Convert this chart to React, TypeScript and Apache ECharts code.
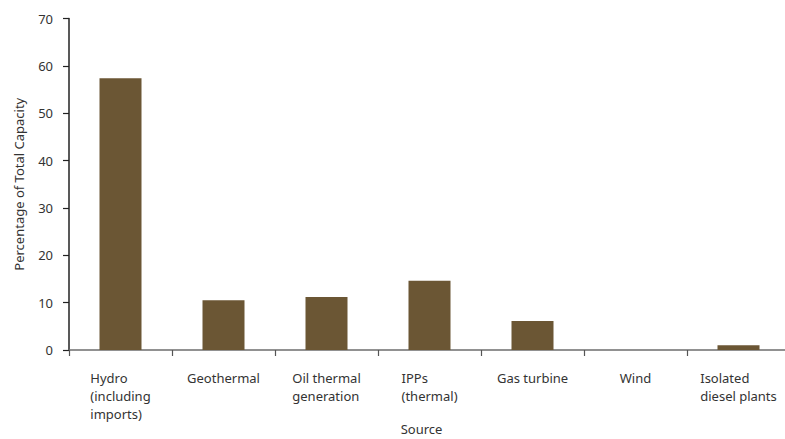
import React, { useEffect, useRef } from "react";
import * as echarts from "echarts";

const categories = [
  "Hydro\n(including\nimports)",
  "Geothermal",
  "Oil thermal\ngeneration",
  "IPPs\n(thermal)",
  "Gas turbine",
  "Wind",
  "Isolated\ndiesel plants",
];
const values = [57.4, 10.5, 11.2, 14.6, 6.1, 0, 1.0];
const yTicks = { min: 0, max: 70, interval: 10 };
const yName = "Percentage of Total Capacity";
const xName = "Source";

const FONT = "Noto Sans";

export default function App() {
  const ref = useRef<HTMLDivElement>(null);
  useEffect(() => {
    if (!ref.current) return;
    const chart = echarts.init(ref.current, null, { renderer: "svg" });
    chart.setOption({
      animation: false,
      backgroundColor: "#ffffff",
      grid: {
        left: 69,
        top: 18.5,
        bottom: 89,
        right: -5,
        containLabel: false,
        outerBoundsMode: "none",
      },
      xAxis: {
        type: "category",
        data: categories,
        boundaryGap: true,
        name: xName,
        nameLocation: "middle",
        nameGap: 72,
        nameMoveOverlap: false,
        nameTextStyle: { fontFamily: FONT, fontSize: 13, color: "#333", padding: [0, 16, 0, 0] },
        axisLine: { lineStyle: { color: "#6d6d6d", width: 1.5 } },
        axisTick: { show: true, alignWithLabel: false, length: 6, lineStyle: { color: "#555", width: 1.2 } },
        axisLabel: {
          interval: 0,
          margin: 19,
          fontFamily: FONT,
          fontSize: 13,
          color: "#333",
          lineHeight: 18,
          hideOverlap: false,
          formatter: (v: string) => v.split("\n").map((s) => `{l|${s}}`).join("\n"),
          rich: { l: { align: "left", fontFamily: FONT, fontSize: 13, color: "#333", lineHeight: 18 } },
        },
        splitLine: { show: false },
      },
      yAxis: {
        type: "value",
        min: yTicks.min,
        max: yTicks.max,
        interval: yTicks.interval,
        name: yName,
        nameLocation: "middle",
        nameGap: 44,
        nameTextStyle: { fontFamily: FONT, fontSize: 13, color: "#333" },
        axisLine: { show: true, lineStyle: { color: "#222", width: 1.5 } },
        axisTick: { show: true, length: 6, lineStyle: { color: "#222", width: 1.2 } },
        axisLabel: { margin: 16, fontFamily: FONT, fontSize: 13, color: "#333" },
        splitLine: { show: false },
      },
      series: [
        {
          type: "bar",
          data: values,
          barWidth: 42,
          itemStyle: { color: "#6b5634" },
        },
      ],
    });
    return () => chart.dispose();
  }, []);
  return (
    <div
      ref={ref}
      style={{ position: "absolute", left: 0, top: 0, width: 785, height: 439 }}
    />
  );
}
